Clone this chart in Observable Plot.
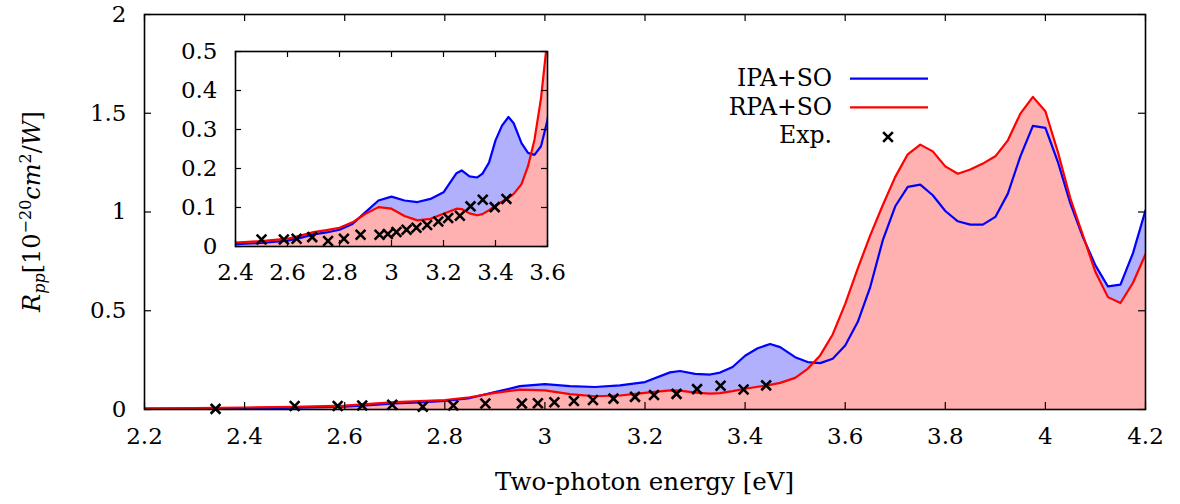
<!DOCTYPE html>
<html><head><meta charset="utf-8">
<script src="https://cdn.jsdelivr.net/npm/d3@7"></script>
<script src="https://cdn.jsdelivr.net/npm/@observablehq/plot@0.6"></script>
<style>
body{margin:0;background:#fff;}
#wrap{position:relative;width:1180px;height:504px;overflow:hidden;}
#wrap svg{position:absolute;overflow:visible;}
</style></head><body><div id="wrap"></div>
<script>
// ---- data ----
const energy = [2.2,2.3,2.4,2.5,2.6,2.65,2.7,2.75,2.8,2.85,2.9,2.95,3.0,3.05,3.1,3.15,3.2,3.25,3.27,3.3,3.33,3.35,3.375,3.4,3.425,3.45,3.47,3.5,3.525,3.55,3.575,3.6,3.625,3.65,3.675,3.7,3.725,3.75,3.775,3.8,3.825,3.85,3.875,3.9,3.925,3.95,3.975,4.0,4.025,4.05,4.075,4.1,4.125,4.15,4.175,4.2];
const ipaSO = [0.003,0.004,0.006,0.009,0.015,0.022,0.031,0.036,0.043,0.058,0.088,0.118,0.128,0.118,0.114,0.122,0.139,0.188,0.195,0.180,0.177,0.187,0.215,0.272,0.31,0.332,0.316,0.265,0.24,0.235,0.257,0.324,0.443,0.62,0.856,1.029,1.127,1.139,1.085,1.005,0.953,0.936,0.936,0.975,1.093,1.282,1.436,1.426,1.253,1.042,0.873,0.73,0.623,0.632,0.792,1.008];
const rpaSO = [0.006,0.007,0.01,0.014,0.02,0.028,0.037,0.042,0.048,0.062,0.084,0.101,0.097,0.078,0.067,0.071,0.084,0.097,0.096,0.085,0.08,0.083,0.093,0.105,0.115,0.125,0.135,0.16,0.206,0.274,0.38,0.535,0.713,0.882,1.034,1.178,1.292,1.341,1.307,1.231,1.194,1.215,1.245,1.282,1.363,1.498,1.583,1.51,1.304,1.068,0.882,0.696,0.569,0.539,0.642,0.786];
const expEnergy = [2.342,2.5,2.586,2.635,2.695,2.756,2.817,2.881,2.954,2.986,3.019,3.058,3.096,3.137,3.18,3.218,3.263,3.304,3.351,3.397,3.442];
const expValue  = [0.003,0.018,0.018,0.02,0.024,0.014,0.02,0.03,0.03,0.032,0.037,0.043,0.048,0.055,0.064,0.073,0.079,0.103,0.12,0.101,0.122];
const mainXTicks = [2.2,2.4,2.6,2.8,3,3.2,3.4,3.6,3.8,4,4.2];
const mainYTicks = [0,0.5,1,1.5,2];
const insetXTicks = [2.4,2.6,2.8,3,3.2,3.4,3.6];
const insetYTicks = [0,0.1,0.2,0.3,0.4,0.5];
const seriesNames = ["IPA+SO","RPA+SO","Exp."];
const xTitle = "Two-photon energy [eV]";

// ---- style ----
const FONT = "DejaVu Serif";
const BLUE = "#0000ff", RED = "#ff0000", BLUE_FILL = "#b0b0fc", RED_FILL = "#ffb0b0";

const curve = energy.map((e, i) => ({e, ipa: ipaSO[i], rpa: rpaSO[i]}));
const expPts = expEnergy.map((e, i) => ({e, v: expValue[i]}));

function panel(o) {
  const fw = o.width - o.ml - o.mr, fh = o.height - o.mt - o.mb;
  return Plot.plot({
    width: o.width, height: o.height,
    marginLeft: o.ml, marginTop: o.mt, marginRight: o.mr, marginBottom: o.mb,
    x: {domain: o.xDomain, label: null},
    y: {domain: o.yDomain, label: null},
    style: {fontFamily: FONT, fontSize: "23px", color: "#000", background: "transparent", overflow: "visible"},
    marks: [
      Plot.areaY(curve, {x: "e", y: "ipa", fill: BLUE_FILL, clip: true}),
      Plot.areaY(curve, {x: "e", y: "rpa", fill: RED_FILL, clip: true}),
      Plot.lineY(curve, {x: "e", y: "ipa", stroke: BLUE, strokeWidth: 2.2, clip: true}),
      Plot.lineY(curve, {x: "e", y: "rpa", stroke: RED, strokeWidth: 2.2, clip: true}),
      Plot.dot(expPts.filter(d => d.e >= o.xDomain[0] && d.e <= o.xDomain[1]),
        {x: "e", y: "v", symbol: "times", r: 4.5, stroke: "#000", strokeWidth: 2.6}),
      Plot.ruleX(o.xTicks, {x: d => d, insetTop: fh - o.tick, stroke: "#000", strokeWidth: 1.2}),
      Plot.ruleX(o.xTicks, {x: d => d, insetBottom: fh - o.tick, stroke: "#000", strokeWidth: 1.2}),
      Plot.ruleY(o.yTicks, {y: d => d, insetRight: fw - o.tick, stroke: "#000", strokeWidth: 1.2}),
      Plot.ruleY(o.yTicks, {y: d => d, insetLeft: fw - o.tick, stroke: "#000", strokeWidth: 1.2}),
      Plot.axisX(o.xTicks, {tickSize: 0, tickPadding: o.padX, tickFormat: d => String(d), label: null}),
      Plot.axisY(o.yTicks, {tickSize: 0, tickPadding: 18, tickFormat: d => String(d), label: null}),
      Plot.frame({stroke: "#000", strokeWidth: 1.6})
    ]
  });
}

const wrap = document.getElementById("wrap");

const main = panel({width: 1180, height: 504, ml: 144, mt: 14, mr: 35, mb: 95,
  xDomain: [2.2, 4.2], yDomain: [0, 2], xTicks: mainXTicks, yTicks: mainYTicks, tick: 7, padX: 18});
main.style.left = "0px"; main.style.top = "0px";
wrap.appendChild(main);

const inset = panel({width: 425, height: 270, ml: 85, mt: 31, mr: 28, mb: 44,
  xDomain: [2.4, 3.6], yDomain: [0, 0.5], xTicks: insetXTicks, yTicks: insetYTicks, tick: 6, padX: 17});
inset.style.left = "150px"; inset.style.top = "20px";
wrap.appendChild(inset);

// ---- titles and legend ----
const svg = d3.select(main);
const g = svg.append("g").attr("font-family", FONT).attr("fill", "#000");

g.append("text").attr("x", 644.5).attr("y", 490).attr("text-anchor", "middle")
  .attr("font-size", 24.5).text(xTitle);

const yl = g.append("text").attr("transform", "translate(40,211.5) rotate(-90)")
  .attr("text-anchor", "middle").attr("font-size", 24);
yl.append("tspan").attr("font-style", "italic").text("R");
yl.append("tspan").attr("font-style", "italic").attr("font-size", 16).attr("baseline-shift", "-30%").text("pp");
yl.append("tspan").text("[10");
yl.append("tspan").attr("font-size", 16).attr("baseline-shift", "super").text("−20");
yl.append("tspan").attr("font-style", "italic").text("cm");
yl.append("tspan").attr("font-size", 16).attr("baseline-shift", "super").text("2");
yl.append("tspan").text("/");
yl.append("tspan").attr("font-style", "italic").text("W");
yl.append("tspan").text("]");

const legBase = [86, 114.5, 143];
seriesNames.forEach((name, i) => {
  g.append("text").attr("x", 832).attr("y", legBase[i]).attr("text-anchor", "end")
    .attr("font-size", 23.5).text(name);
});
g.append("line").attr("x1", 850).attr("x2", 928).attr("y1", 78.7).attr("y2", 78.7).attr("stroke", BLUE).attr("stroke-width", 2.2);
g.append("line").attr("x1", 850).attr("x2", 928).attr("y1", 107.3).attr("y2", 107.3).attr("stroke", RED).attr("stroke-width", 2.2);
g.append("path").attr("d", d3.symbol(d3.symbolTimes, Math.PI * 4.5 * 4.5)())
  .attr("transform", "translate(888,137)").attr("fill", "none").attr("stroke", "#000").attr("stroke-width", 2.6);
</script></body></html>
